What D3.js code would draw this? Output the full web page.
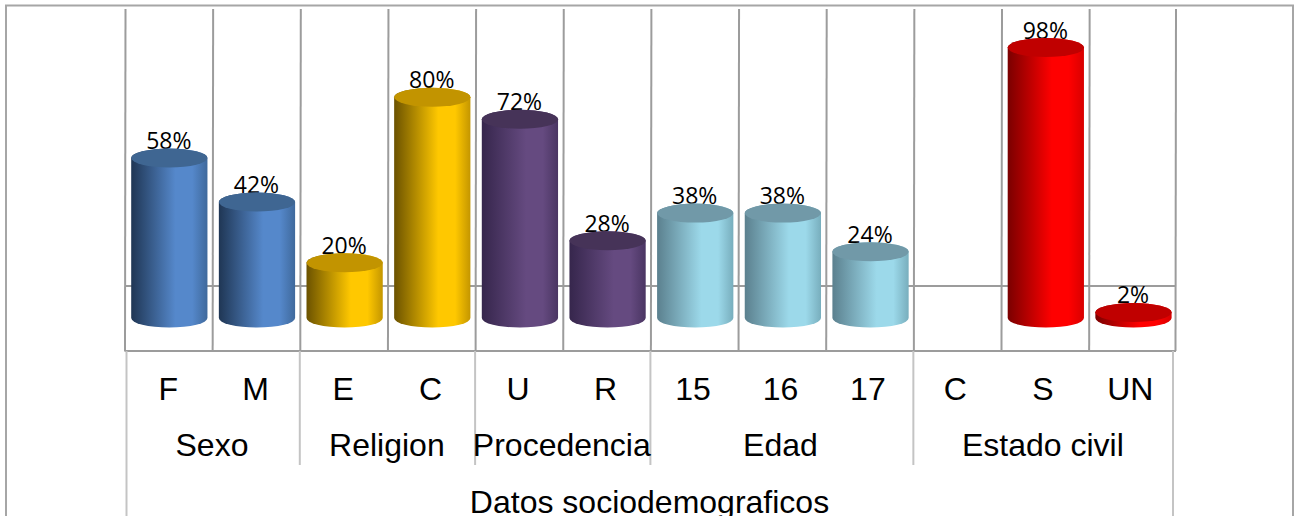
<!DOCTYPE html>
<html>
<head>
<meta charset="utf-8">
<script src="https://cdn.jsdelivr.net/npm/d3@7"></script>
<style>
  html, body { margin: 0; padding: 0; background: #fff; overflow: hidden; }
  svg { display: block; }
  .cat text, .grp, .main { font-family: "Liberation Sans", Arial, sans-serif; font-size: 32px; fill: #000; }
  .val { font-family: "Open Sans", sans-serif; font-size: 23px; fill: #000; }
</style>
</head>
<body>
<div class="canvas"></div>
<script>
// Data
const categories = ["F", "M", "E", "C", "U", "R", "15", "16", "17", "C", "S", "UN"];
const values = [0.58, 0.42, 0.2, 0.8, 0.72, 0.28, 0.38, 0.38, 0.24, null, 0.98, 0.02];
const groupNames = ["Sexo", "Religion", "Procedencia", "Edad", "Estado civil"];
const groupSizes = [2, 2, 2, 3, 3];
const axisTitle = "Datos sociodemograficos";

// shades: dark edge, bright, right edge, top cap
const shades = [
  ["#1f3654", "#5588cb", "#3f699c", "#3f6692"],
  ["#6b5200", "#ffc800", "#c49600", "#c29400"],
  ["#36264c", "#654a80", "#4a3562", "#463358"],
  ["#5b808e", "#9cd9ea", "#78aebd", "#7199a8"],
  ["#7a0000", "#ff0000", "#d80000", "#c00000"],
];

const dims = { width: 1298, height: 516 };
const plot = { left: 125.5, right: 1177.3, lastWall: 1176, top: 9, floor: 351, base: 318, full: 42, wall: 286 };
const grey = "#9c9c9c";
const lightGrey = "#c4c4c4";

const svg = d3
  .select(".canvas")
  .append("svg")
  .attr("width", dims.width)
  .attr("height", dims.height);

const x = d3
  .scaleBand()
  .domain(d3.range(categories.length))
  .range([plot.left, plot.right]);

// the labels under the floor sit on a slightly tighter grid than the bars
const xLabel = d3
  .scaleBand()
  .domain(d3.range(categories.length))
  .range([plot.left, plot.lastWall - 1]);

const y = d3.scaleLinear().domain([0, 1]).range([plot.base, plot.full]);

// which group each category belongs to
const groupOf = groupSizes.flatMap((n, g) => d3.range(n).map(() => g));

const rx = x.bandwidth() * 0.435;
const ry = 9.5;

// Gradients
const defs = svg.append("defs");
shades.forEach((s, g) => {
  const grad = defs.append("linearGradient").attr("id", `side${g}`);
  grad.append("stop").attr("offset", "0%").attr("stop-color", s[0]);
  grad.append("stop").attr("offset", "58%").attr("stop-color", s[1]);
  grad.append("stop").attr("offset", "80%").attr("stop-color", s[1]);
  grad.append("stop").attr("offset", "100%").attr("stop-color", s[2]);
});

// Frame
svg
  .append("rect")
  .attr("x", 6)
  .attr("y", 5.5)
  .attr("width", 1287)
  .attr("height", 530)
  .attr("fill", "#fff")
  .attr("stroke", "#a6a6a6")
  .attr("stroke-width", 2);

// Walls
const wallX = (i) => Math.min(plot.left + i * x.step(), plot.lastWall);
const grid = svg.append("g").attr("stroke", grey).attr("stroke-width", 2);
grid
  .selectAll("line.v")
  .data(d3.range(categories.length + 1))
  .enter()
  .append("line")
  .attr("class", "v")
  .attr("x1", wallX)
  .attr("x2", (i) => wallX(i) - 0.5)
  .attr("y1", plot.top)
  .attr("y2", plot.floor);
grid
  .append("line")
  .attr("x1", plot.left)
  .attr("x2", plot.lastWall)
  .attr("y1", plot.wall)
  .attr("y2", plot.wall);
grid
  .append("line")
  .attr("x1", plot.left - 1)
  .attr("x2", plot.lastWall)
  .attr("y1", plot.floor)
  .attr("y2", plot.floor);

// Multi level separators under the floor
const groupEdges = d3.cumsum(groupSizes);
const seps = svg.append("g").attr("stroke", lightGrey).attr("stroke-width", 2);
seps
  .selectAll("line")
  .data(groupEdges.slice(0, -1))
  .enter()
  .append("line")
  .attr("x1", (e) => wallX(e) - 1)
  .attr("x2", (e) => wallX(e) - 1)
  .attr("y1", plot.floor)
  .attr("y2", 465);
[plot.left + 1, plot.lastWall - 3].forEach((px) => {
  seps
    .append("line")
    .attr("x1", px)
    .attr("x2", px)
    .attr("y1", plot.floor)
    .attr("y2", dims.height);
});

// Category labels
const xAxis = d3
  .axisBottom(xLabel)
  .tickSize(0)
  .tickPadding(0)
  .tickFormat((i) => categories[i]);
const cat = svg
  .append("g")
  .attr("class", "cat")
  .attr("transform", `translate(0, ${plot.floor})`)
  .call(xAxis);
cat.select(".domain").remove();
cat.selectAll("text").attr("dy", null).attr("y", 49).attr("dx", -1);

// Group labels
svg
  .selectAll("text.grp")
  .data(groupNames)
  .enter()
  .append("text")
  .attr("class", "grp")
  .attr("text-anchor", "middle")
  .attr("x", (d, g) => {
    const start = g ? groupEdges[g - 1] : 0;
    return plot.left + ((start + groupEdges[g]) / 2) * xLabel.step() - 1;
  })
  .attr("y", 456)
  .text((d) => d);

svg
  .append("text")
  .attr("class", "main")
  .attr("text-anchor", "middle")
  .attr("x", 649.5)
  .attr("y", 513)
  .text(axisTitle);

// Cylinders
const bars = categories
  .map((c, i) => ({ i, value: values[i], group: groupOf[i] }))
  .filter((d) => d.value !== null);

const cx = (d) => x(d.i) + x.bandwidth() / 2;

const bar = svg
  .selectAll("g.bar")
  .data(bars)
  .enter()
  .append("g")
  .attr("class", "bar");

// Value labels go first, the caps overlap them a little
bar
  .append("text")
  .attr("class", "val")
  .attr("text-anchor", "middle")
  .attr("x", (d) => cx(d) - 0.5)
  .attr("y", (d) => y(d.value) - 9)
  .text((d) => `${Math.round(d.value * 100)}%`);

bar
  .append("path")
  .attr("fill", (d) => `url(#side${d.group})`)
  .attr("d", (d) => {
    const l = cx(d) - rx;
    const r = cx(d) + rx;
    return `M${l},${y(d.value)} L${l},${y(0)} A${rx},${ry} 0 0 0 ${r},${y(0)} L${r},${y(d.value)} A${rx},${ry} 0 0 0 ${l},${y(d.value)} Z`;
  });

bar
  .append("ellipse")
  .attr("cx", cx)
  .attr("cy", (d) => y(d.value))
  .attr("rx", rx)
  .attr("ry", ry)
  .attr("fill", (d) => shades[d.group][3]);
</script>
</body>
</html>
